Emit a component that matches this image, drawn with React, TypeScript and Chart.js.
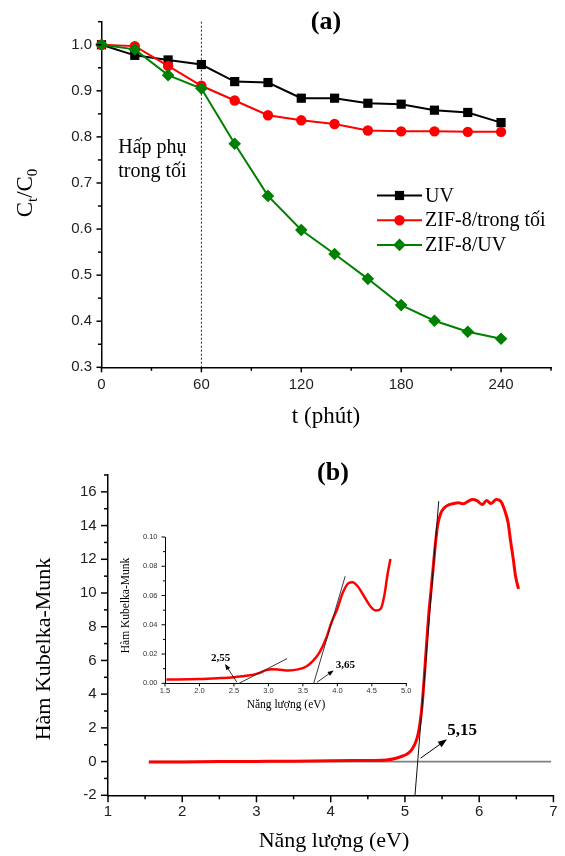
import React, { useEffect, useRef } from "react";
import { Chart, registerables } from "chart.js";

Chart.register(...registerables);

const SANS = '"Liberation Sans", Arial, sans-serif';
const SERIF = '"Liberation Serif", "Times New Roman", serif';

// ---------------- (a) data ----------------
const A_TIME = [0, 20, 40, 60, 80, 100, 120, 140, 160, 180, 200, 220, 240];
const A_UV = [1.0, 0.977, 0.967, 0.957, 0.92, 0.918, 0.884, 0.884, 0.873, 0.871, 0.858, 0.853, 0.831];
const A_ZIF8_DARK = [1.0, 0.997, 0.954, 0.911, 0.879, 0.847, 0.836, 0.828, 0.814, 0.812, 0.812, 0.811, 0.811];
const A_ZIF8_UV = [1.0, 0.99, 0.934, 0.905, 0.785, 0.672, 0.598, 0.546, 0.492, 0.435, 0.401, 0.377, 0.362];
const A_SERIES = ["UV", "ZIF-8/trong tối", "ZIF-8/UV"];
const A_X_TICKS = [0, 60, 120, 180, 240];
const A_X_MINOR = [30, 90, 150, 210, 270];
const A_Y_TICKS = [0.3, 0.4, 0.5, 0.6, 0.7, 0.8, 0.9, 1.0];
const A_Y_MINOR = [0.35, 0.45, 0.55, 0.65, 0.75, 0.85, 0.95, 1.05];
const A_DARK_END = 60;
const A_DARK_LABEL = ["Hấp phụ", "trong tối"];

// ---------------- (b) data ----------------
const B_CURVE_X = [1.55, 2.0, 2.5, 3.0, 3.5, 4.0, 4.3, 4.6, 4.75, 4.88, 4.95, 5.03, 5.09, 5.13, 5.17, 5.2, 5.23, 5.26, 5.29, 5.32, 5.35, 5.38, 5.41, 5.44, 5.48, 5.53, 5.6, 5.66, 5.72, 5.79, 5.85, 5.91, 5.97, 6.04, 6.1, 6.16, 6.23, 6.29, 6.34, 6.39, 6.42, 6.46, 6.49, 6.53];
const B_CURVE_Y = [-0.03, -0.02, 0.0, 0.01, 0.02, 0.05, 0.06, 0.06, 0.09, 0.2, 0.3, 0.45, 0.7, 1.0, 1.5, 2.2, 3.3, 5.0, 6.9, 8.7, 10.1, 11.5, 12.9, 14.0, 14.7, 15.05, 15.25, 15.31, 15.35, 15.29, 15.44, 15.54, 15.48, 15.25, 15.48, 15.31, 15.54, 15.44, 14.95, 14.16, 13.17, 11.98, 10.99, 10.24];
const B_TANGENT_X = [5.135, 5.455];
const B_TANGENT_Y = [-2, 15.45];
const B_BASELINE_X = [1.55, 6.97];
const B_BASELINE_Y = [0, 0];
const B_ARROW_X = [5.21, 5.566];
const B_ARROW_Y = [0.2, 1.32];
const B_GAP_LABEL = "5,15";
const B_GAP_LABEL_XY = [5.57, 1.55];
const B_X_TICKS = [1, 2, 3, 4, 5, 6, 7];
const B_X_MINOR = [1.5, 2.5, 3.5, 4.5, 5.5, 6.5];
const B_Y_TICKS = [-2, 0, 2, 4, 6, 8, 10, 12, 14, 16];
const B_Y_MINOR = [-1, 1, 3, 5, 7, 9, 11, 13, 15, 17];

// ---------------- (b) inset data ----------------
const IN_CURVE_X = [1.52, 2.0, 2.27, 2.5, 2.71, 2.85, 2.97, 3.05, 3.14, 3.29, 3.43, 3.55, 3.65, 3.74, 3.84, 3.91, 4.0, 4.08, 4.16, 4.22, 4.3, 4.4, 4.49, 4.56, 4.63, 4.68, 4.73, 4.77];
const IN_CURVE_Y = [0.0026, 0.0029, 0.0035, 0.0042, 0.0053, 0.0068, 0.009, 0.0096, 0.0095, 0.0088, 0.0095, 0.0115, 0.0155, 0.021, 0.031, 0.041, 0.051, 0.062, 0.0684, 0.069, 0.066, 0.0585, 0.052, 0.0497, 0.051, 0.0596, 0.075, 0.085];
const IN_TAN1_X = [2.576, 3.272];
const IN_TAN1_Y = [0, 0.0169];
const IN_TAN2_X = [3.657, 4.114];
const IN_TAN2_Y = [0, 0.0732];
const IN_ARROW1_X = [2.543, 2.37];
const IN_ARROW1_Y = [0.0007, 0.0132];
const IN_ARROW2_X = [3.705, 3.946];
const IN_ARROW2_Y = [0.0007, 0.0088];
const IN_LABELS = ["2,55", "3,65"];
const IN_LABELS_X = [2.169, 3.978];
const IN_LABELS_Y = [0.0154, 0.0106];
const IN_X_TICKS = [1.5, 2.0, 2.5, 3.0, 3.5, 4.0, 4.5, 5.0];
const IN_Y_TICKS = [0, 0.02, 0.04, 0.06, 0.08, 0.1];
const IN_Y_MINOR = [0.01, 0.03, 0.05, 0.07, 0.09];

const B_Y_TITLE = "Hàm Kubelka-Munk";
const B_X_TITLE = "Năng lượng (eV)";

// ---------------- helpers ----------------
const pts = (xs: number[], ys: number[]) => xs.map((x, i) => ({ x, y: ys[i] }));

function drawTicks(chart: any, axisId: string, major: number[], minor: number[], len: number, minorLen: number, width: number) {
  const s = chart.scales[axisId];
  const ctx = chart.ctx;
  const ca = chart.chartArea;
  ctx.save();
  ctx.strokeStyle = "#000";
  ctx.lineWidth = width;
  const one = (v: number, l: number) => {
    const p = s.getPixelForValue(v);
    ctx.beginPath();
    if (s.isHorizontal()) {
      ctx.moveTo(p, ca.bottom);
      ctx.lineTo(p, ca.bottom + l);
    } else {
      ctx.moveTo(ca.left, p);
      ctx.lineTo(ca.left - l, p);
    }
    ctx.stroke();
  };
  major.forEach((v) => one(v, len));
  minor.forEach((v) => one(v, minorLen));
  ctx.restore();
}

function text(ctx: CanvasRenderingContext2D, s: string, x: number, y: number, font: string, align: CanvasTextAlign = "left", baseline: CanvasTextBaseline = "alphabetic", rotate = 0) {
  ctx.save();
  ctx.font = font;
  ctx.fillStyle = "#000";
  ctx.textAlign = align;
  ctx.textBaseline = baseline;
  ctx.translate(x, y);
  if (rotate) ctx.rotate(rotate);
  ctx.fillText(s, 0, 0);
  ctx.restore();
}

function arrow(chart: any, xs: number[], ys: number[], head: number, lw: number) {
  const ctx = chart.ctx;
  const sx = chart.scales.x;
  const sy = chart.scales.y;
  const x1 = sx.getPixelForValue(xs[0]);
  const y1 = sy.getPixelForValue(ys[0]);
  const x2 = sx.getPixelForValue(xs[1]);
  const y2 = sy.getPixelForValue(ys[1]);
  const a = Math.atan2(y2 - y1, x2 - x1);
  ctx.save();
  ctx.strokeStyle = "#000";
  ctx.fillStyle = "#000";
  ctx.lineWidth = lw;
  ctx.beginPath();
  ctx.moveTo(x1, y1);
  ctx.lineTo(x2 - Math.cos(a) * head * 0.6, y2 - Math.sin(a) * head * 0.6);
  ctx.stroke();
  ctx.beginPath();
  ctx.moveTo(x2, y2);
  ctx.lineTo(x2 - Math.cos(a) * head + Math.sin(a) * head * 0.38, y2 - Math.sin(a) * head - Math.cos(a) * head * 0.38);
  ctx.lineTo(x2 - Math.cos(a) * head - Math.sin(a) * head * 0.38, y2 - Math.sin(a) * head + Math.cos(a) * head * 0.38);
  ctx.closePath();
  ctx.fill();
  ctx.restore();
}

function axisCfg(o: any) {
  return {
    type: "linear",
    min: o.min,
    max: o.max,
    afterBuildTicks: (s: any) => {
      s.ticks = o.ticks.map((v: number) => ({ value: v }));
    },
    afterFit: (s: any) => {
      if (o.width !== undefined) s.width = o.width;
      if (o.height !== undefined) s.height = o.height;
    },
    ticks: {
      autoSkip: false,
      maxRotation: 0,
      minRotation: 0,
      padding: o.padding,
      color: o.color || "#222",
      font: { family: SANS, size: o.fontSize },
      callback: o.format,
    },
    grid: { display: true, drawOnChartArea: false, drawTicks: false },
    border: { display: true, color: "#000", width: o.borderWidth },
  };
}

function ChartCanvas({ left, top, width, height, make }: any) {
  const ref = useRef<HTMLCanvasElement>(null);
  useEffect(() => {
    const chart = new Chart(ref.current as HTMLCanvasElement, make());
    return () => chart.destroy();
  }, []);
  return (
    <canvas
      ref={ref}
      width={width}
      height={height}
      style={{ position: "absolute", left, top, width, height }}
    />
  );
}

// ---------------- chart (a) ----------------
const A_COLORS = ["#000000", "#ff0000", "#008000"];

function drawMarker(ctx: CanvasRenderingContext2D, kind: number, x: number, y: number, color: string) {
  ctx.save();
  ctx.fillStyle = color;
  ctx.beginPath();
  if (kind === 0) {
    ctx.rect(x - 4.6, y - 4.6, 9.2, 9.2);
  } else if (kind === 1) {
    ctx.arc(x, y, 5.2, 0, Math.PI * 2);
  } else {
    ctx.moveTo(x, y - 6.3);
    ctx.lineTo(x + 6.3, y);
    ctx.lineTo(x, y + 6.3);
    ctx.lineTo(x - 6.3, y);
    ctx.closePath();
  }
  ctx.fill();
  ctx.restore();
}

function makeA() {
  const decor = {
    id: "aDecor",
    beforeDatasetsDraw(chart: any) {
      const ctx = chart.ctx;
      const ca = chart.chartArea;
      const px = chart.scales.x.getPixelForValue(A_DARK_END);
      ctx.save();
      ctx.strokeStyle = "#222";
      ctx.lineWidth = 1;
      ctx.setLineDash([2, 2]);
      ctx.beginPath();
      ctx.moveTo(px, ca.top);
      ctx.lineTo(px, ca.bottom);
      ctx.stroke();
      ctx.restore();
    },
    afterDraw(chart: any) {
      const ctx = chart.ctx;
      drawTicks(chart, "x", A_X_TICKS, A_X_MINOR, 5, 3.5, 1.5);
      drawTicks(chart, "y", A_Y_TICKS, A_Y_MINOR, 5, 3.5, 1.5);
      text(ctx, "(a)", 326, 28.5, `bold 26px ${SERIF}`, "center");
      text(ctx, "t (phút)", 326, 423, `23px ${SERIF}`, "center");
      // y title C_t/C_0
      ctx.save();
      ctx.translate(31.5, 193);
      ctx.rotate(-Math.PI / 2);
      ctx.fillStyle = "#000";
      ctx.textBaseline = "alphabetic";
      const big = `23px ${SERIF}`;
      const small = `15px ${SERIF}`;
      ctx.font = big;
      const wC = ctx.measureText("C").width;
      const wS = ctx.measureText("/").width;
      ctx.font = small;
      const wt = ctx.measureText("t").width;
      const w0 = ctx.measureText("0").width;
      let x = -(2 * wC + wS + wt + w0) / 2;
      ctx.font = big;
      ctx.fillText("C", x, 0);
      x += wC;
      ctx.font = small;
      ctx.fillText("t", x, 5);
      x += wt;
      ctx.font = big;
      ctx.fillText("/", x, 0);
      x += wS;
      ctx.fillText("C", x, 0);
      x += wC;
      ctx.font = small;
      ctx.fillText("0", x, 5);
      ctx.restore();
      // dark adsorption note
      text(ctx, A_DARK_LABEL[0], 118.3, 153.3, `20px ${SERIF}`);
      text(ctx, A_DARK_LABEL[1], 118.3, 176.7, `20px ${SERIF}`);
      // legend
      A_SERIES.forEach((name, i) => {
        const y = 195.5 + i * 24.7;
        ctx.save();
        ctx.strokeStyle = A_COLORS[i];
        ctx.lineWidth = 2;
        ctx.beginPath();
        ctx.moveTo(377, y);
        ctx.lineTo(422, y);
        ctx.stroke();
        ctx.restore();
        drawMarker(ctx, i, 399.5, y, A_COLORS[i]);
        text(ctx, name, 425, y + 1, `20px ${SERIF}`, "left", "middle");
      });
    },
  };
  const ds = (i: number, ys: number[], style: string, r: number, order: number) => ({
    label: A_SERIES[i],
    data: pts(A_TIME, ys),
    borderColor: A_COLORS[i],
    backgroundColor: A_COLORS[i],
    borderWidth: 2,
    pointStyle: style,
    pointRadius: r,
    pointBorderWidth: 0,
    pointBackgroundColor: A_COLORS[i],
    tension: 0,
    order,
    clip: false,
  });
  return {
    type: "line",
    data: {
      datasets: [
        ds(0, A_UV, "rect", 6.5, 2),
        ds(1, A_ZIF8_DARK, "circle", 5.2, 1),
        ds(2, A_ZIF8_UV, "rectRot", 6.3, 0),
      ],
    },
    options: {
      responsive: false,
      animation: false,
      events: [],
      layout: { padding: { top: 21.7, right: 14, left: 0, bottom: 0 } },
      plugins: { legend: { display: false }, tooltip: { enabled: false } },
      scales: {
        x: axisCfg({ min: 0, max: 270, ticks: A_X_TICKS, height: 62.7, padding: 8.5, fontSize: 15, borderWidth: 1.5, format: (v: number) => String(v) }),
        y: axisCfg({ min: 0.3, max: 1.05, ticks: A_Y_TICKS, width: 101.5, padding: 9.5, fontSize: 15, borderWidth: 1.5, format: (v: number) => v.toFixed(1) }),
      },
    },
    plugins: [decor],
  };
}

// ---------------- chart (b) ----------------
function makeB() {
  const decor = {
    id: "bDecor",
    afterDraw(chart: any) {
      const ctx = chart.ctx;
      drawTicks(chart, "x", B_X_TICKS, B_X_MINOR, 7, 4, 1.5);
      drawTicks(chart, "y", B_Y_TICKS, B_Y_MINOR, 7, 4, 1.5);
      text(ctx, "(b)", 333, 50.3, `bold 26px ${SERIF}`, "center");
      text(ctx, B_X_TITLE, 334, 417, `22px ${SERIF}`, "center");
      text(ctx, B_Y_TITLE, 44, 219, `22px ${SERIF}`, "center", "middle", -Math.PI / 2);
      arrow(chart, B_ARROW_X, B_ARROW_Y, 9, 1);
      const sx = chart.scales.x;
      const sy = chart.scales.y;
      text(ctx, B_GAP_LABEL, sx.getPixelForValue(B_GAP_LABEL_XY[0]), sy.getPixelForValue(B_GAP_LABEL_XY[1]), `bold 17px ${SERIF}`);
    },
  };
  return {
    type: "line",
    data: {
      datasets: [
        { label: "tangent", data: pts(B_TANGENT_X, B_TANGENT_Y), borderColor: "#111", borderWidth: 1, pointRadius: 0, order: 0, clip: false },
        { label: "F(R)", data: pts(B_CURVE_X, B_CURVE_Y), borderColor: "#ff0000", borderWidth: 3, pointRadius: 0, cubicInterpolationMode: "monotone", order: 1, clip: false },
        { label: "baseline", data: pts(B_BASELINE_X, B_BASELINE_Y), borderColor: "#808080", borderWidth: 1.6, pointRadius: 0, order: 2, clip: false },
      ],
    },
    options: {
      responsive: false,
      animation: false,
      events: [],
      layout: { padding: { top: 45, right: 5.5, left: 0, bottom: 0 } },
      plugins: { legend: { display: false }, tooltip: { enabled: false } },
      scales: {
        x: axisCfg({ min: 1, max: 7, ticks: B_X_TICKS, height: 60.7, padding: 7.4, fontSize: 15, borderWidth: 1.5, format: (v: number) => String(v) }),
        y: axisCfg({ min: -2, max: 17, ticks: B_Y_TICKS, width: 108, padding: 11.3, fontSize: 15, borderWidth: 1.5, format: (v: number) => String(v) }),
      },
    },
    plugins: [decor],
  };
}

// ---------------- inset ----------------
function makeInset() {
  const decor = {
    id: "inDecor",
    afterDraw(chart: any) {
      const ctx = chart.ctx;
      drawTicks(chart, "x", IN_X_TICKS, [], 3, 2, 1);
      drawTicks(chart, "y", IN_Y_TICKS, IN_Y_MINOR, 3.5, 2, 1);
      text(ctx, B_X_TITLE, 191, 180, `11.5px ${SERIF}`, "center", "middle");
      text(ctx, B_Y_TITLE, 30.5, 80.5, `11.5px ${SERIF}`, "center", "middle", -Math.PI / 2);
      arrow(chart, IN_ARROW1_X, IN_ARROW1_Y, 6, 0.8);
      arrow(chart, IN_ARROW2_X, IN_ARROW2_Y, 6, 0.8);
      const sx = chart.scales.x;
      const sy = chart.scales.y;
      IN_LABELS.forEach((l, i) => {
        text(ctx, l, sx.getPixelForValue(IN_LABELS_X[i]), sy.getPixelForValue(IN_LABELS_Y[i]), `bold 11px ${SERIF}`);
      });
    },
  };
  return {
    type: "line",
    data: {
      datasets: [
        { label: "t1", data: pts(IN_TAN1_X, IN_TAN1_Y), borderColor: "#222", borderWidth: 0.9, pointRadius: 0, order: 0, clip: false },
        { label: "t2", data: pts(IN_TAN2_X, IN_TAN2_Y), borderColor: "#222", borderWidth: 0.9, pointRadius: 0, order: 0, clip: false },
        { label: "F(R) inset", data: pts(IN_CURVE_X, IN_CURVE_Y), borderColor: "#ff0000", borderWidth: 2.5, pointRadius: 0, cubicInterpolationMode: "monotone", order: 1, clip: false },
      ],
    },
    options: {
      responsive: false,
      animation: false,
      events: [],
      layout: { padding: { top: 8, right: 6.7, left: 0, bottom: 0 } },
      plugins: { legend: { display: false }, tooltip: { enabled: false } },
      scales: {
        x: axisCfg({ min: 1.5, max: 5.0, ticks: IN_X_TICKS, height: 36.7, padding: 3.5, fontSize: 7.5, color: "#333", borderWidth: 1, format: (v: number) => v.toFixed(1) }),
        y: axisCfg({ min: 0, max: 0.1, ticks: IN_Y_TICKS, width: 70, padding: 7.5, fontSize: 7.5, color: "#333", borderWidth: 1, format: (v: number) => v.toFixed(2) }),
      },
    },
    plugins: [decor],
  };
}

export default function App() {
  return (
    <div style={{ position: "absolute", left: 0, top: 0, width: 565, height: 856, background: "#fff", overflow: "hidden" }}>
      <ChartCanvas left={0} top={0} width={565} height={430} make={makeA} />
      <ChartCanvas left={0} top={430} width={565} height={426} make={makeB} />
      <ChartCanvas left={95} top={525} width={320} height={195} make={makeInset} />
    </div>
  );
}
